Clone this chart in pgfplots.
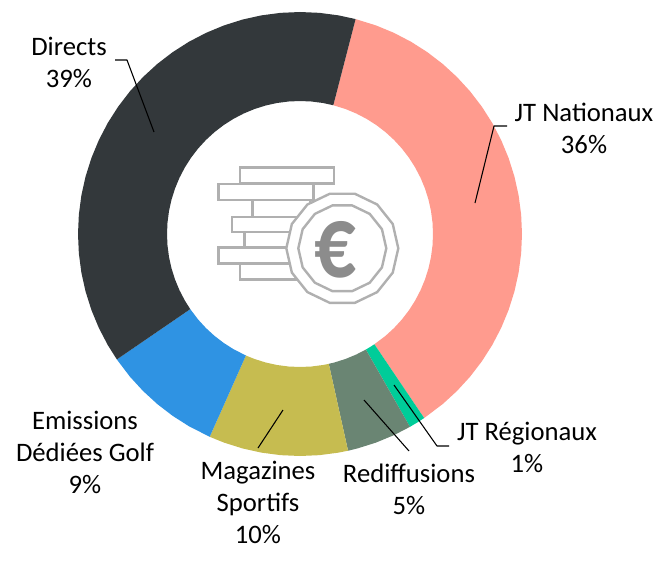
\documentclass[border=0pt]{standalone}
\usepackage{fontspec}
\setmainfont{Carlito}
\usepackage{pgfplots}
\pgfplotsset{compat=1.18}
\usetikzlibrary{shapes.geometric}
\definecolor{cSalmon}{HTML}{FF9B8E}
\definecolor{cGreen}{HTML}{00CC99}
\definecolor{cGrey}{HTML}{6A8573}
\definecolor{cOlive}{HTML}{C6BC50}
\definecolor{cBlue}{HTML}{2F93E3}
\definecolor{cDark}{HTML}{33383B}
\definecolor{cIcon}{HTML}{B0B0B0}
\tikzset{
  lab/.style={font=\fontsize{20}{24}\selectfont, align=center, text=black, inner sep=0pt},
  leader/.style={black, line width=0.8pt, line join=round},
}
\begin{document}
\begin{tikzpicture}
\begin{axis}[
  scale only axis, width=500.25pt, height=421.5pt,
  xmin=-300, xmax=367, ymin=-328, ymax=234,
  hide axis, clip=false,
  every axis plot/.append style={no markers},
]
\path (axis cs:-300,-328) rectangle (axis cs:367,234);
% Slices: (angle in degrees, radius in pixels)
\addplot[fill=cSalmon, draw=none, data cs=polar] coordinates {
 (75.5,222)(70,222)(65,222)(60,222)(55,222)(50,222)(45,222)(40,222)(35,222)(30,222)(25,222)(20,222)(15,222)(10,222)(5,222)(0,222)
 (-5,222)(-10,222)(-15,222)(-20,222)(-25,222)(-30,222)(-35,222)(-40,222)(-45,222)(-50,222)(-56,222)
 (-56,133)(-50,133)(-45,133)(-40,133)(-35,133)(-30,133)(-25,133)(-20,133)(-15,133)(-10,133)(-5,133)
 (0,133)(5,133)(10,133)(15,133)(20,133)(25,133)(30,133)(35,133)(40,133)(45,133)(50,133)(55,133)(60,133)(65,133)(70,133)(75.5,133)} -- cycle;
\addplot[fill=cGreen, draw=none, data cs=polar] coordinates {
 (-56,222)(-58,222)(-60.3,222)(-60.3,133)(-58,133)(-56,133)} -- cycle;
\addplot[fill=cGrey, draw=none, data cs=polar] coordinates {
 (-60.3,222)(-65,222)(-70,222)(-75,222)(-77.5,222)(-77.5,133)(-75,133)(-70,133)(-65,133)(-60.3,133)} -- cycle;
\addplot[fill=cOlive, draw=none, data cs=polar] coordinates {
 (-77.5,222)(-80,222)(-85,222)(-90,222)(-95,222)(-100,222)(-105,222)(-110,222)(-114,222)
 (-114,133)(-110,133)(-105,133)(-100,133)(-95,133)(-90,133)(-85,133)(-80,133)(-77.5,133)} -- cycle;
\addplot[fill=cBlue, draw=none, data cs=polar] coordinates {
 (-114,222)(-120,222)(-125,222)(-130,222)(-135,222)(-140,222)(-145.6,222)
 (-145.6,133)(-140,133)(-135,133)(-130,133)(-125,133)(-120,133)(-114,133)} -- cycle;
\addplot[fill=cDark, draw=none, data cs=polar] coordinates {
 (75.5,222)(80,222)(85,222)(90,222)(95,222)(100,222)(105,222)(110,222)(115,222)(120,222)(125,222)(130,222)(135,222)(140,222)(145,222)(150,222)(155,222)(160,222)(165,222)(170,222)(175,222)(180,222)(185,222)(190,222)(195,222)(200,222)(205,222)(210,222)(214.4,222)
 (214.4,133)(210,133)(205,133)(200,133)(195,133)(190,133)(185,133)(180,133)(175,133)(170,133)(165,133)(160,133)(155,133)(150,133)(145,133)(140,133)(135,133)(130,133)(125,133)(120,133)(115,133)(110,133)(105,133)(100,133)(95,133)(90,133)(85,133)(80,133)(75.5,133)} -- cycle;
% Leader lines
\addplot[leader] coordinates {(-185,174)(-173,174)(-146,102)};
\addplot[leader] coordinates {(207,108)(194,108)(175,31)};
\addplot[leader] coordinates {(149,-212)(137,-212)(94,-151)};
\addplot[leader] coordinates {(109,-217)(64,-166)};
\addplot[leader] coordinates {(-42,-214)(-17,-176)};
% Labels
\node[lab] at (axis cs:-231,172) {Directs\\39\%};
\node[lab] at (axis cs:284,106) {JT Nationaux\\36\%};
\node[lab] at (axis cs:227,-213) {JT Régionaux\\1\%};
\node[lab] at (axis cs:109,-255) {Rediffusions\\5\%};
\node[lab] at (axis cs:-42,-268) {Magazines\\Sportifs\\10\%};
\node[lab] at (axis cs:-215,-218) {Emissions\\Dédiées Golf\\9\%};
% Centre icon
\begin{scope}[draw=cIcon, line width=1.8pt]
\draw (axis cs:-60,66.7) rectangle (axis cs:34,50.7);
\draw (axis cs:-81.7,50) rectangle (axis cs:13.3,34);
\draw (axis cs:-47.7,34) rectangle (axis cs:10,17.3);
\draw (axis cs:-68.3,17.3) rectangle (axis cs:0,2.3);
\draw (axis cs:-55.7,2.3) rectangle (axis cs:0,-13.3);
\draw (axis cs:-81.7,-13.3) rectangle (axis cs:0,-29.3);
\draw (axis cs:-60,-29.3) rectangle (axis cs:0,-45.3);
\node[regular polygon, regular polygon sides=14, minimum size=84pt, inner sep=0pt, draw=cIcon, fill=white] at (axis cs:42.3,-14.3) {};
\node[regular polygon, regular polygon sides=14, minimum size=66pt, inner sep=0pt, draw=cIcon, fill=white] at (axis cs:42.3,-14.3) {};
\end{scope}
\node[inner sep=0pt, text=black!45, yscale=1.25, font=\fontsize{62}{62}\selectfont\bfseries] at (axis cs:35,-16.3) {€};
\end{axis}
\end{tikzpicture}
\end{document}
